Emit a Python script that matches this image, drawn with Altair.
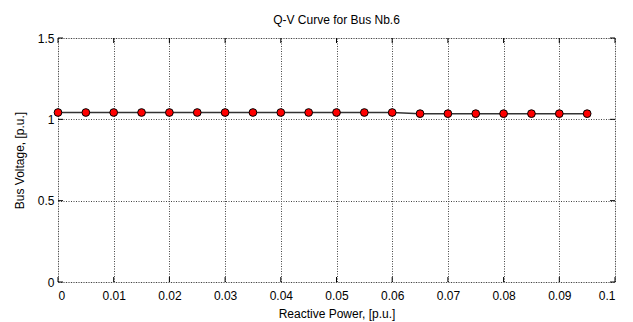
import altair as alt
import pandas as pd

q = [0.0, 0.005, 0.01, 0.015, 0.02, 0.025, 0.03, 0.035, 0.04, 0.045,
     0.05, 0.055, 0.06, 0.065, 0.07, 0.075, 0.08, 0.085, 0.09, 0.095]
v = [1.042, 1.042, 1.042, 1.042, 1.042, 1.042, 1.042, 1.042, 1.042, 1.042,
     1.042, 1.042, 1.042, 1.035, 1.035, 1.035, 1.035, 1.035, 1.035, 1.035]
x_ticks = [0, 0.01, 0.02, 0.03, 0.04, 0.05, 0.06, 0.07, 0.08, 0.09, 0.1]
y_ticks = [0, 0.5, 1, 1.5]

df = pd.DataFrame({"q": q, "v": v})
xt = pd.DataFrame({"t": x_ticks})
yt = pd.DataFrame({"t": y_ticks})

FONT = "Liberation Sans"
W, H = 557, 244

xs = alt.Scale(domain=[0, 0.1], nice=False, zero=False)
ys = alt.Scale(domain=[0, 1.5], nice=False)

xaxis = alt.Axis(values=x_ticks, format="~g", grid=True, gridColor="#444",
                 gridDash=[1, 1.5], gridWidth=1, domain=False, ticks=False,
                 labelFont=FONT, labelFontSize=12, labelColor="#000", labelPadding=8,
                 title="Reactive Power, [p.u.]", titleFont=FONT, titleFontSize=12,
                 titleFontWeight="normal", titleColor="#000", titlePadding=7)
yaxis = alt.Axis(values=y_ticks, format="~g", grid=True, gridColor="#444",
                 gridDash=[1, 1.5], gridWidth=1, domain=False, ticks=False,
                 labelFont=FONT, labelFontSize=12, labelColor="#000", labelPadding=4,
                 title="Bus Voltage, [p.u.]", titleFont=FONT, titleFontSize=12,
                 titleFontWeight="normal", titleColor="#000", titlePadding=11)

base = alt.Chart(df)
line = base.mark_line(color="#333", strokeWidth=1.5).encode(
    x=alt.X("q:Q", scale=xs, axis=xaxis),
    y=alt.Y("v:Q", scale=ys, axis=yaxis),
)
pts = base.mark_point(filled=True, fill="#ff0000", stroke="#000", strokeWidth=1,
                      size=60, shape="circle", opacity=1).encode(
    x=alt.X("q:Q", scale=xs),
    y=alt.Y("v:Q", scale=ys),
)

xtick_b = alt.Chart(xt).mark_rule(color="#000", strokeWidth=1).encode(
    x=alt.X("t:Q", scale=xs), y=alt.value(H), y2=alt.value(H - 5))
xtick_t = alt.Chart(xt).mark_rule(color="#000", strokeWidth=1).encode(
    x=alt.X("t:Q", scale=xs), y=alt.value(0), y2=alt.value(5))
ytick_l = alt.Chart(yt).mark_rule(color="#000", strokeWidth=1).encode(
    y=alt.Y("t:Q", scale=ys), x=alt.value(0), x2=alt.value(5))
ytick_r = alt.Chart(yt).mark_rule(color="#000", strokeWidth=1).encode(
    y=alt.Y("t:Q", scale=ys), x=alt.value(W), x2=alt.value(W - 5))

chart = alt.layer(xtick_b, xtick_t, ytick_l, ytick_r, line, pts).properties(
    width=W, height=H,
    title=alt.TitleParams("Q-V Curve for Bus Nb.6", font=FONT, fontSize=12,
                          fontWeight="normal", color="#000", offset=5),
    autosize=alt.AutoSizeParams(type="none"),
    padding={"left": 58, "top": 38, "right": 18, "bottom": 40},
).configure_view(stroke="#000", strokeWidth=1.5).configure(background="white")

chart.save("out.html", embed_options={"renderer": "svg", "actions": False})
